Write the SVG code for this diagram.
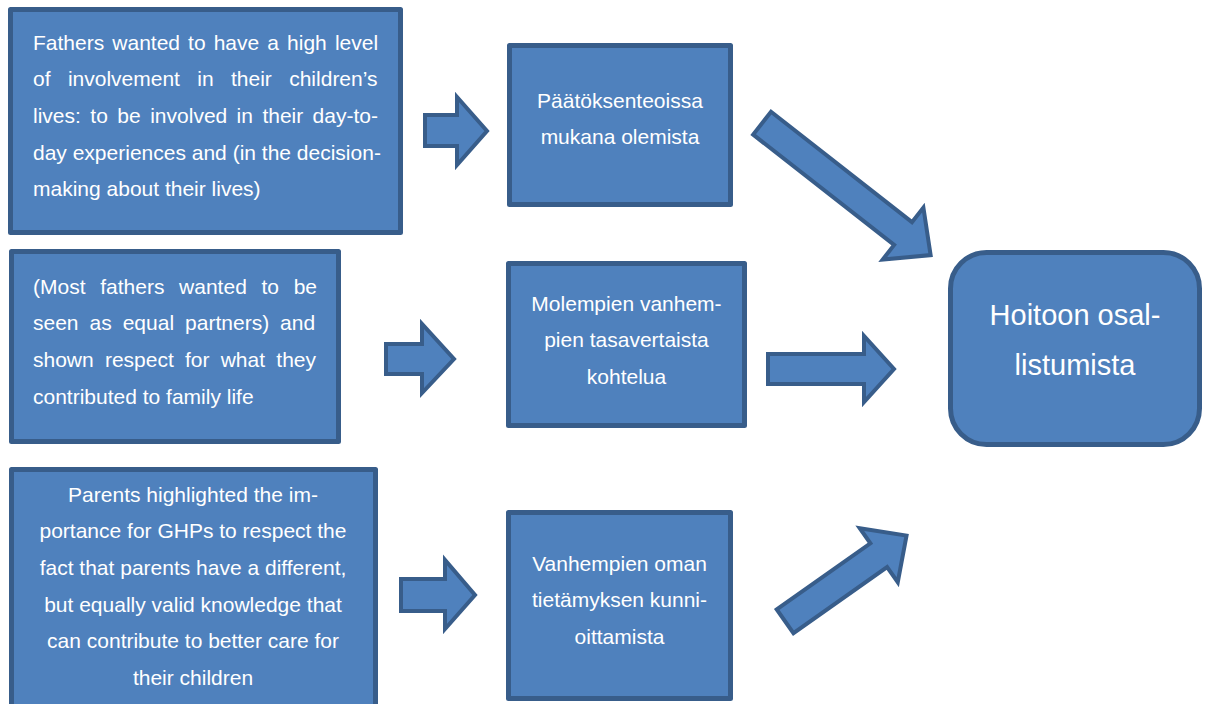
<svg xmlns="http://www.w3.org/2000/svg" width="1205" height="704" viewBox="0 0 1205 704">
<style>
.box{fill:#4f81bd;stroke:#385d8a;stroke-width:5;stroke-linejoin:round}
.arrow{fill:#4f81bd;stroke:#385d8a;stroke-width:4;stroke-linejoin:miter}
.t{font-family:"Liberation Sans",Arial,sans-serif;font-size:21px;fill:#ffffff}
.c{text-anchor:middle}
.big{font-family:"Liberation Sans",Arial,sans-serif;font-size:29px;fill:#ffffff;text-anchor:middle}
</style>
<rect width="1205" height="704" fill="#ffffff"/>
<g id="connectors">
<polygon class="arrow" points="425,115 457,115 457,97 487,131 457,165 457,146 425,146"/>
<polygon class="arrow" points="386,344 422,344 422,324 454,359 422,393 422,374 386,374"/>
<polygon class="arrow" points="401,579 445,579 445,560 475,595 445,629 445,611 401,611"/>
<polygon class="arrow" points="768,354 864,354 864,336 894,369 864,402 864,384 768,384"/>
<polygon class="arrow" transform="translate(762.1,123.2) rotate(38.05)" points="0,-14.5 179,-14.5 179,-33 214,0 179,33 179,14.5 0,14.5"/>
<polygon class="arrow" transform="translate(785.1,621.3) rotate(-35.2)" points="0,-14.5 114.6,-14.5 114.6,-33 148.6,0 114.6,33 114.6,14.5 0,14.5"/>
</g>
<g id="node-fathers-involvement">
<rect class="box" x="10.5" y="9.5" width="390" height="223"/>
<text class="t" y="49.5"><tspan x="33">Fathers</tspan><tspan x="112.3">wanted</tspan><tspan x="188.1">to</tspan><tspan x="213.7">have</tspan><tspan x="267.3">a</tspan><tspan x="287.1">high</tspan><tspan x="334.9">level</tspan></text>
<text class="t" y="86.2"><tspan x="33">of</tspan><tspan x="67.9">involvement</tspan><tspan x="197.3">in</tspan><tspan x="231">their</tspan><tspan x="289.2">children’s</tspan></text>
<text class="t" y="122.9"><tspan x="33">lives:</tspan><tspan x="90.3">to</tspan><tspan x="117.3">be</tspan><tspan x="150.2">involved</tspan><tspan x="236.6">in</tspan><tspan x="262.4">their</tspan><tspan x="312.6">day-to-</tspan></text>
<text class="t" x="33" y="159.6">day experiences and (in the decision-</text>
<text class="t" x="33" y="196.3">making about their lives)</text>
</g>
<g id="node-equal-partners">
<rect class="box" x="11.5" y="251.5" width="327" height="190"/>
<text class="t" y="293.5"><tspan x="33">(Most</tspan><tspan x="100.2">fathers</tspan><tspan x="179.1">wanted</tspan><tspan x="261.5">to</tspan><tspan x="293.7">be</tspan></text>
<text class="t" y="330.2"><tspan x="33">seen</tspan><tspan x="89.5">as</tspan><tspan x="122.7">equal</tspan><tspan x="185.1">partners)</tspan><tspan x="280.1">and</tspan></text>
<text class="t" y="366.9"><tspan x="33">shown</tspan><tspan x="104.9">respect</tspan><tspan x="185">for</tspan><tspan x="220.7">what</tspan><tspan x="276.3">they</tspan></text>
<text class="t" x="33" y="403.6">contributed to family life</text>
</g>
<g id="node-parents-knowledge">
<rect class="box" x="11.5" y="469.5" width="364" height="260"/>
<text class="t c" x="193" y="501.5">Parents highlighted the im-</text>
<text class="t c" x="193" y="538.2">portance for GHPs to respect the</text>
<text class="t c" x="193" y="574.9">fact that parents have a different,</text>
<text class="t c" x="193" y="611.6">but equally valid knowledge that</text>
<text class="t c" x="193" y="648.3">can contribute to better care for</text>
<text class="t c" x="193" y="685">their children</text>
</g>
<g id="node-paatoksenteko">
<rect class="box" x="509.5" y="45.5" width="221" height="159"/>
<text class="t c" x="620" y="107.5">Päätöksenteoissa</text>
<text class="t c" x="620" y="144.2">mukana olemista</text>
</g>
<g id="node-tasavertainen">
<rect class="box" x="508.5" y="263.5" width="236" height="162"/>
<text class="t c" x="626.5" y="310.5">Molempien vanhem-</text>
<text class="t c" x="626.5" y="347.2">pien tasavertaista</text>
<text class="t c" x="626.5" y="383.9">kohtelua</text>
</g>
<g id="node-tietamys">
<rect class="box" x="508.5" y="512.5" width="222" height="186"/>
<text class="t c" x="619.5" y="570.5">Vanhempien oman</text>
<text class="t c" x="619.5" y="607.2">tietämyksen kunni-</text>
<text class="t c" x="619.5" y="643.9">oittamista</text>
</g>
<g id="node-osallistuminen">
<rect class="box" x="950.5" y="252.5" width="249" height="192" rx="36" ry="36"/>
<text class="big" x="1075" y="325">Hoitoon osal-</text>
<text class="big" x="1075" y="375">listumista</text>
</g>
</svg>
